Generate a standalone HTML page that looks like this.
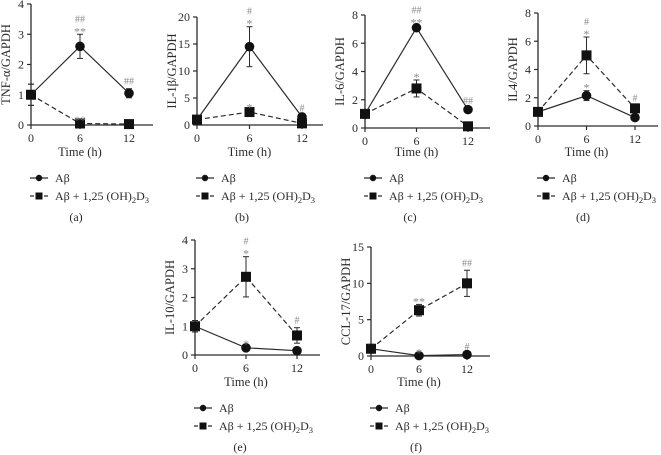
<!DOCTYPE html>
<html><head><meta charset="utf-8">
<style>
html,body{margin:0;padding:0;background:#fff;}
svg{display:block;font-family:"Liberation Serif","DejaVu Serif",serif;}
</style></head>
<body>
<svg id="chart" width="661" height="455" viewBox="0 0 661 455" xmlns="http://www.w3.org/2000/svg"></svg>
<script>
// ---- data ----
const timePoints = [0, 6, 12];
const titlesY = ["TNF-α/GAPDH","IL-1β/GAPDH","IL-6/GAPDH","IL4/GAPDH","IL-10/GAPDH","CCL-17/GAPDH"];
const panelLetters = ["(a)","(b)","(c)","(d)","(e)","(f)"];
const yTicksA = [0,1,2,3,4];
const yTicksB = [0,5,10,15,20];
const yTicksC = [0,2,4,6,8];
const yTicksD = [0,2,4,6,8];
const yTicksE = [0,1,2,3,4];
const yTicksF = [0,5,10,15];
const abA = [1,2.6,1.05];   const abErrA = [0.35,0.4,0.15];
const d3A = [1,0.05,0.03];  const d3ErrA = [0.35,0.02,0.02];
const abB = [1,14.5,1.5];   const abErrB = [0.3,3.7,0.3];
const d3B = [1,2.4,0.3];    const d3ErrB = [0.3,0.3,0.1];
const abC = [1,7.1,1.3];    const abErrC = [0.3,0.15,0.1];
const d3C = [1,2.8,0.12];   const d3ErrC = [0.3,0.6,0.05];
const abD = [1,2.15,0.6];   const abErrD = [0.2,0.35,0.05];
const d3D = [1,5.0,1.25];   const d3ErrD = [0.2,1.3,0.2];
const abE = [1,0.25,0.15];  const abErrE = [0.15,0.03,0.1];
const d3E = [1,2.72,0.68];  const d3ErrE = [0.2,0.7,0.27];
const abF = [1,0.05,0.2];   const abErrF = [0.6,0.05,0.1];
const d3F = [1,6.3,10];     const d3ErrF = [0.6,0.8,1.8];
const annA = [["ab",1,["##","**"]],["ab",2,["##"]],["d3",1,["**"]]];
const annB = [["ab",1,["#","*"]],["ab",2,["#"]],["d3",1,["*"]]];
const annC = [["ab",1,["##","**"]],["ab",2,["##"]],["d3",1,["*"]]];
const annD = [["d3",1,["#","*"]],["ab",1,["*"]],["d3",2,["#"]]];
const annE = [["d3",1,["#","*"]],["ab",1,["*"]],["d3",2,["#"]]];
const annF = [["d3",1,["**"]],["d3",2,["##"]],["ab",1,["*"]],["ab",2,["#"]]];

const layouts = [
 {x0:31, y0:125, yTop:4,  xEnd:153, x12:129, tMax:4,  ticks:yTicksA, ab:abA, abE:abErrA, d3:d3A, d3E:d3ErrA, ann:annA, timeY:156, legY:178, lblY:221},
 {x0:197,y0:125, yTop:17, xEnd:323, x12:302, tMax:20, ticks:yTicksB, ab:abB, abE:abErrB, d3:d3B, d3E:d3ErrB, ann:annB, timeY:156, legY:178, lblY:221},
 {x0:365,y0:128, yTop:15, xEnd:490, x12:468, tMax:8,  ticks:yTicksC, ab:abC, abE:abErrC, d3:d3C, d3E:d3ErrC, ann:annC, timeY:156, legY:178, lblY:221},
 {x0:538,y0:126, yTop:13, xEnd:658, x12:635, tMax:8,  ticks:yTicksD, ab:abD, abE:abErrD, d3:d3D, d3E:d3ErrD, ann:annD, timeY:156, legY:178, lblY:221},
 {x0:195,y0:355, yTop:240,xEnd:320, x12:297, tMax:4,  ticks:yTicksE, ab:abE, abE:abErrE, d3:d3E, d3E:d3ErrE, ann:annE, timeY:386, legY:408, lblY:451},
 {x0:371,y0:356, yTop:247,xEnd:490, x12:467, tMax:15, ticks:yTicksF, ab:abF, abE:abErrF, d3:d3F, d3E:d3ErrF, ann:annF, timeY:386, legY:408, lblY:451}
];
const NS="http://www.w3.org/2000/svg";
const svg=document.getElementById('chart');
const INK="#2b2b2b", GRAY="#8a8a8a";
function mk(tag,attrs,parent){const e=document.createElementNS(NS,tag);for(const k in attrs)e.setAttribute(k,attrs[k]);(parent||svg).appendChild(e);return e;}

layouts.forEach((L,pi)=>{
  const g=mk('g',{});
  
  
  const xs=t=>L.x0+(L.x12-L.x0)*t/12;
  const ys=v=>L.y0-(L.y0-L.yTop)*v/L.tMax;
  const ya=mk('line',{x1:L.x0,y1:L.y0,x2:L.x0,y2:L.yTop,stroke:INK,'stroke-width':1.3},g);
  
  
  const xa=mk('line',{x1:L.x0,y1:L.y0,x2:L.xEnd,y2:L.y0,stroke:INK,'stroke-width':1.3},g);
  
  
  L.ticks.forEach(v=>{
    mk('line',{x1:L.x0-4,y1:ys(v),x2:L.x0,y2:ys(v),stroke:INK,'stroke-width':1.2},g);
    const t=mk('text',{x:L.x0-7,y:ys(v)+4,'text-anchor':'end','font-size':12,fill:INK},g);
    t.textContent=v;
    
    
  });
  timePoints.forEach(tp=>{
    mk('line',{x1:xs(tp),y1:L.y0,x2:xs(tp),y2:L.y0+4,stroke:INK,'stroke-width':1.2},g);
    const t=mk('text',{x:xs(tp),y:L.y0+17,'text-anchor':'middle','font-size':12,fill:INK},g);
    t.textContent=tp;
    
    
  });
  const xt=mk('text',{x:(L.x0+L.x12)/2,y:L.timeY,'text-anchor':'middle','font-size':12.5,fill:INK},g);
  xt.textContent='Time (h)';
  
  
  const cy=(L.y0+L.yTop)/2;
  const yt=mk('text',{x:L.x0-21,y:cy,'text-anchor':'middle','font-size':12.5,fill:INK,transform:`rotate(-90 ${L.x0-21} ${cy})`},g);
  yt.textContent=titlesY[pi];
  
  
  const series=[{k:'d3',v:L.d3,e:L.d3E,dash:'5,3',sq:true},{k:'ab',v:L.ab,e:L.abE,dash:null,sq:false}];
  series.forEach(s=>{
    const pts=s.v.map((v,i)=>xs(timePoints[i])+','+ys(v)).join(' ');
    const pl=mk('polyline',{points:pts,fill:'none',stroke:INK,'stroke-width':1.2},g);
    if(s.dash)pl.setAttribute('stroke-dasharray',s.dash);
    
    
    s.v.forEach((v,i)=>{
      const x=xs(timePoints[i]);
      mk('line',{x1:x,y1:ys(v-s.e[i]),x2:x,y2:ys(v+s.e[i]),stroke:INK,'stroke-width':1},g);
      mk('line',{x1:x-3,y1:ys(v+s.e[i]),x2:x+3,y2:ys(v+s.e[i]),stroke:INK,'stroke-width':1},g);
      mk('line',{x1:x-3,y1:ys(v-s.e[i]),x2:x+3,y2:ys(v-s.e[i]),stroke:INK,'stroke-width':1},g);
      let m;
      if(s.sq)m=mk('rect',{x:x-5,y:ys(v)-5,width:10,height:10,fill:'#111'},g);
      else m=mk('circle',{cx:x,cy:ys(v),r:4.8,fill:'#111'},g);
      
      
    });
  });
  L.ann.forEach(a=>{
    const arr=a[0]==='ab'?L.ab:L.d3, err=a[0]==='ab'?L.abE:L.d3E;
    const x=xs(timePoints[a[1]]);
    let y=ys(arr[a[1]]+err[a[1]])-4;
    const lines=a[2];
    for(let j=lines.length-1;j>=0;j--){
      const star=lines[j].includes('*');
      const t=mk('text',{x:x,y:y+(star?5:0),'text-anchor':'middle','font-size':star?12:10,fill:GRAY},g);
      t.textContent=lines[j];
      
      
      y-=8;
    }
  });
  const lx=L.x0-1, ly=L.legY;
  const lg=mk('g',{},g);
  
  
  mk('line',{x1:lx,y1:ly,x2:lx+18,y2:ly,stroke:INK,'stroke-width':1.2},lg);
  mk('circle',{cx:lx+9,cy:ly,r:3.2,fill:'#111'},lg);
  const t1=mk('text',{x:lx+25,y:ly+4,'font-size':12,fill:INK},lg);
  t1.textContent='Aβ';
  
  
  mk('line',{x1:lx,y1:ly+18,x2:lx+18,y2:ly+18,stroke:INK,'stroke-width':1.2,'stroke-dasharray':'4,3'},lg);
  mk('rect',{x:lx+5.5,y:ly+14.5,width:7,height:7,fill:'#111'},lg);
  const t2=mk('text',{x:lx+25,y:ly+22,'font-size':12,fill:INK},lg);
  t2.innerHTML='Aβ + 1,25 (OH)<tspan font-size="8.5" dy="3">2</tspan><tspan dy="-3">D</tspan><tspan font-size="8.5" dy="3">3</tspan>';
  
  
  const pl=mk('text',{x:L.x0+45,y:L.lblY,'text-anchor':'middle','font-size':12,fill:INK},g);
  pl.textContent=panelLetters[pi];
  
  
});
</script>
</body></html>
